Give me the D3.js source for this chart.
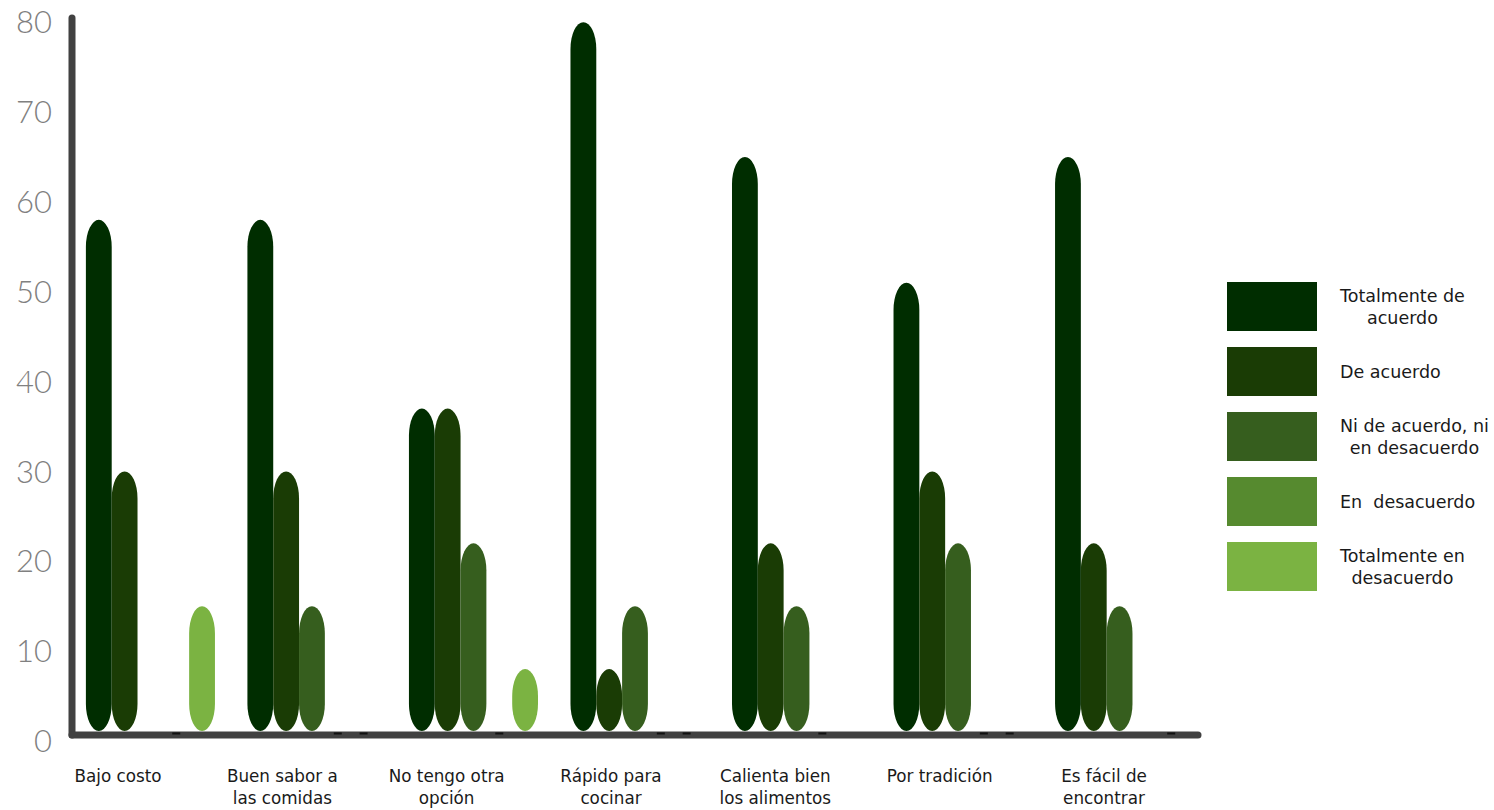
<!DOCTYPE html>
<html>
<head>
<meta charset="utf-8">
<script src="https://cdn.jsdelivr.net/npm/d3@7"></script>
<style>
  html, body { margin: 0; padding: 0; background: #ffffff; }
  svg { display: block; }
  svg text { white-space: pre; }
</style>
</head>
<body>
<svg id="chart" width="1494" height="810"></svg>
<script>
// ---------- DATA ----------
const categories = [
  ["Bajo costo"],
  ["Buen sabor a", "las comidas"],
  ["No tengo otra", "opción"],
  ["Rápido para", "cocinar"],
  ["Calienta bien", "los alimentos"],
  ["Por tradición"],
  ["Es fácil de", "encontrar"]
];
const seriesNames = [
  ["Totalmente de", "acuerdo"],
  ["De acuerdo"],
  ["Ni de acuerdo, ni", "en desacuerdo"],
  ["En  desacuerdo"],
  ["Totalmente en", "desacuerdo"]
];
const totalmenteDeAcuerdo   = [58, 58, 37, 80, 65, 51, 65];
const deAcuerdo             = [30, 30, 37, 8, 22, 30, 22];
const niDeAcuerdoNiDesac    = [null, 15, 22, 15, 15, 22, 15];
const enDesacuerdo          = [0, 0, 0, 0, 0, 0, null];
const totalmenteDesacuerdo  = [15, 0, 8, 0, null, 0, 0];
const seriesValues = [totalmenteDeAcuerdo, deAcuerdo, niDeAcuerdoNiDesac, enDesacuerdo, totalmenteDesacuerdo];
const seriesColors = ["#002d00", "#1a3c05", "#365e1e", "#568a2f", "#7bb342"];
const yTicks = [0, 10, 20, 30, 40, 50, 60, 70, 80];

// ---------- LAYOUT ----------
const svg = d3.select("#chart");
const plotLeft = 72, plotRight = 1198;
const y = d3.scaleLinear().domain([0, 80]).range([741, 22.2]);
const x0 = d3.scaleBand().domain(d3.range(categories.length)).range([plotLeft, plotRight]).paddingInner(0.201).paddingOuter(0.086);
const x1 = d3.scaleBand().domain(d3.range(seriesNames.length)).range([0, x0.bandwidth()]);
const labelX = d3.scalePoint().domain(d3.range(categories.length)).range([118, 1104]);

const axisColor = "#414141";
const axisY = y(0) - 6;
const barBottom = y(0) - 10;

// capsule path
function capsule(cx, w, top, bottom) {
  const rx = w / 2;
  const h = bottom - top;
  const ry = Math.min(27, h / 2);
  const l = cx - rx, r = cx + rx;
  return `M${l},${top + ry}` +
    `A${rx},${ry} 0 0 1 ${r},${top + ry}` +
    `L${r},${bottom - ry}` +
    `A${rx},${ry} 0 0 1 ${l},${bottom - ry}Z`;
}

// ---------- BARS ----------
const barG = svg.append("g");
seriesValues.forEach((vals, si) => {
  vals.forEach((v, ci) => {
    if (v === null || v === 0) return;
    const cx = x0(ci) + x1(si) + x1.bandwidth() / 2;
    barG.append("path")
      .attr("d", capsule(cx, x1.bandwidth(), y(v), barBottom))
      .attr("fill", seriesColors[si]);
  });
});

// ---------- AXES ----------
svg.append("line")
  .attr("x1", plotLeft).attr("x2", plotLeft)
  .attr("y1", 18).attr("y2", axisY)
  .attr("stroke", axisColor).attr("stroke-width", 7).attr("stroke-linecap", "round");
svg.append("line")
  .attr("x1", plotLeft).attr("x2", plotRight)
  .attr("y1", axisY).attr("y2", axisY)
  .attr("stroke", axisColor).attr("stroke-width", 7).attr("stroke-linecap", "round");

// zero markers
seriesValues.forEach((vals, si) => {
  vals.forEach((v, ci) => {
    if (v !== 0) return;
    const cx = x0(ci) + x1(si) + x1.bandwidth() / 2;
    svg.append("line")
      .attr("x1", cx - 4).attr("x2", cx + 4)
      .attr("y1", axisY - 1.5).attr("y2", axisY - 1.5)
      .attr("stroke", "#111").attr("stroke-width", 2);
  });
});

// y tick labels
svg.append("g").selectAll("text").data(yTicks).join("text")
  .attr("x", 52).attr("y", d => y(d))
  .attr("dy", "0.36em")
  .attr("text-anchor", "end")
  .attr("font-family", "Lato, 'DejaVu Sans', sans-serif")
  .attr("font-weight", 300)
  .attr("font-size", 31)
  .attr("fill", "#808080")
  .text(d => d);

// category labels
const catG = svg.append("g")
  .attr("font-family", "'DejaVu Sans', sans-serif")
  .attr("font-size", 16.8)
  .attr("fill", "#1a1a1a");
categories.forEach((lines, ci) => {
  const t = catG.append("text").attr("text-anchor", "middle");
  lines.forEach((ln, li) => {
    t.append("tspan").attr("x", labelX(ci)).attr("y", 782 + li * 22).text(ln);
  });
});

// ---------- LEGEND ----------
const legG = svg.append("g")
  .attr("font-family", "'DejaVu Sans', sans-serif")
  .attr("font-size", 17.5)
  .attr("fill", "#1a1a1a");
const legTop = 282, legPitch = 65, swW = 90, swH = 49, swX = 1227, textX = 1340;
seriesNames.forEach((lines, si) => {
  const gy = legTop + si * legPitch;
  legG.append("rect")
    .attr("x", swX).attr("y", gy).attr("width", swW).attr("height", swH)
    .attr("fill", seriesColors[si]);
  const cy = gy + swH / 2;
  const lh = 22;
  const t = legG.append("text");
  const spans = lines.map((ln, li) =>
    t.append("tspan").attr("y", cy + (li - (lines.length - 1) / 2) * lh).attr("dy", "0.35em").text(ln));
  if (lines.length === 1) {
    spans[0].attr("x", textX);
  } else {
    const widths = spans.map(s => s.node().getComputedTextLength());
    const mw = d3.max(widths);
    spans.forEach((s, i) => s.attr("x", textX + (mw - widths[i]) / 2));
  }
});
</script>
</body>
</html>
